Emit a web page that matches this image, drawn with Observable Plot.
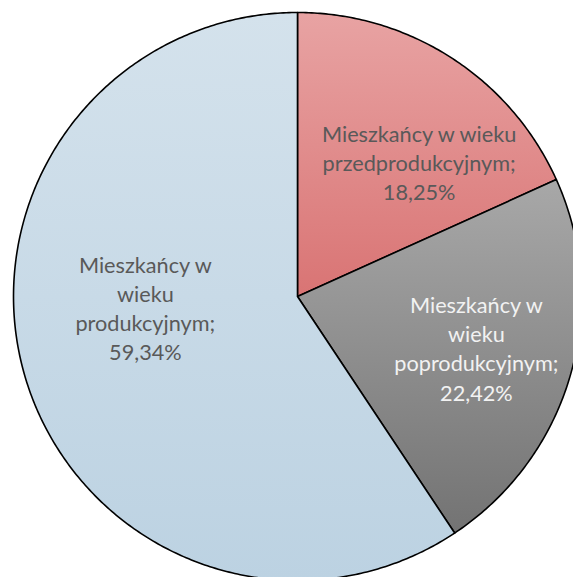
<!DOCTYPE html>
<html>
<head>
<meta charset="utf-8">
<script src="https://cdn.jsdelivr.net/npm/d3@7"></script>
<script src="https://cdn.jsdelivr.net/npm/@observablehq/plot@0.6"></script>
<style>
  html, body { margin: 0; padding: 0; background: #ffffff; }
  #chart svg { display: block; }
</style>
</head>
<body>
<div id="chart"></div>
<script>
// ---- data ----
const categories = [
  "Mieszkańcy w wieku przedprodukcyjnym",
  "Mieszkańcy w wieku poprodukcyjnym",
  "Mieszkańcy w wieku produkcyjnym"
];
const shares = [18.25, 22.42, 59.34];
const valueLabels = ["18,25%", "22,42%", "59,34%"];
const wrappedNames = [
  "Mieszkańcy w wieku\nprzedprodukcyjnym;",
  "Mieszkańcy w\nwieku\npoprodukcyjnym;",
  "Mieszkańcy w\nwieku\nprodukcyjnym;"
];

// ---- styling / layout (not data) ----
const gradients = [
  ["#e8a3a3", "#d97474"],
  ["#a8a8a8", "#737373"],
  ["#d4e2ec", "#bcd2e2"]
];
const textColors = ["#595959", "#f2f2f2", "#595959"];
const labelPolar = [[42.0, 0.64], [105.9, 0.655], [266.0, 0.537]]; // [deg clockwise from top, radius fraction]
const W = 573, H = 577, cx = 297, cy = 296, R = 284;

// ---- geometry from data ----
const total = d3.sum(shares);
let acc = 0;
const slices = shares.map((v, i) => {
  const a0 = acc / total * 2 * Math.PI;
  acc += v;
  const a1 = acc / total * 2 * Math.PI;
  return {i, name: categories[i], a0, a1};
});
const pts = [];
slices.forEach(s => {
  pts.push({i: s.i, x: 0, y: 0});
  const n = Math.max(2, Math.ceil((s.a1 - s.a0) / 0.01));
  for (let k = 0; k <= n; k++) {
    const a = s.a0 + (s.a1 - s.a0) * k / n;
    pts.push({i: s.i, x: Math.sin(a), y: Math.cos(a)});
  }
  pts.push({i: s.i, x: 0, y: 0});
});
const labels = slices.map(s => {
  const [deg, r] = labelPolar[s.i];
  const a = deg * Math.PI / 180;
  return {i: s.i, x: r * Math.sin(a), y: r * Math.cos(a), text: wrappedNames[s.i] + "\n" + valueLabels[s.i]};
});

const marks = slices.map(s => Plot.line(pts.filter(p => p.i === s.i), {
  x: "x", y: "y", fill: `url(#grad${s.i})`, stroke: "#000", strokeWidth: 1.6,
  strokeLinejoin: "round", curve: "linear"
}));
labels.forEach(l => marks.push(Plot.text([l], {
  x: "x", y: "y", text: "text", fill: textColors[l.i], fontSize: 21.7,
  lineHeight: 1.35, lineAnchor: "middle", textAnchor: "middle",
  fontFamily: "Lato, 'Open Sans', sans-serif"
})));

const chart = Plot.plot({
  width: W, height: H,
  margin: 0,
  x: {domain: [-1, 1], range: [cx - R, cx + R], axis: null},
  y: {domain: [-1, 1], range: [cy + R, cy - R], axis: null},
  style: {background: "#ffffff", overflow: "hidden"},
  marks
});

const defs = d3.select(chart).insert("defs", ":first-child");
gradients.forEach((g, i) => {
  const lg = defs.append("linearGradient").attr("id", `grad${i}`)
    .attr("x1", 0).attr("y1", 0).attr("x2", 0).attr("y2", 1);
  lg.append("stop").attr("offset", "0%").attr("stop-color", g[0]);
  lg.append("stop").attr("offset", "100%").attr("stop-color", g[1]);
});
document.getElementById("chart").appendChild(chart);
</script>
</body>
</html>
